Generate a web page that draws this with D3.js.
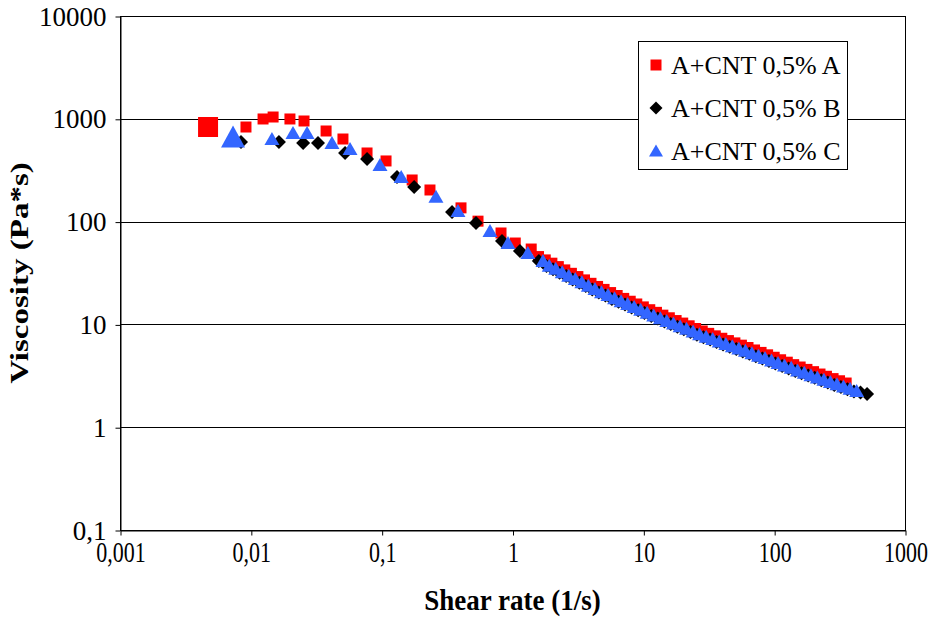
<!doctype html>
<html lang="en">
  <head>
    <meta charset="utf-8">
    <title>Viscosity vs shear rate</title>
    <script src="https://cdn.jsdelivr.net/npm/d3@7"></script>
    <style>
      body { margin: 0; background: #fff; }
      text { font-family: "Liberation Serif", "Times New Roman", serif; fill: #000; }
    </style>
  </head>
  <body>
    <script>
      // series (shear rate in 1/s, viscosity in Pa*s)
      const rateA = [0.00471, 0.00918, 0.0124, 0.0148, 0.0199, 0.0255, 0.0376, 0.0506, 0.0773, 0.108, 0.171, 0.234, 0.404, 0.545, 0.817, 1.05, 1.39,
        1.58, 1.78, 2.00, 2.24, 2.51, 2.82, 3.16, 3.55, 3.98, 4.47, 5.01, 5.62, 6.31, 7.08, 7.94, 8.91, 10.0, 11.2, 12.6, 14.1,
        15.8, 17.8, 20.0, 22.4, 25.1, 28.2, 31.6, 35.5, 39.8, 44.7, 50.1, 56.2, 63.1, 70.8, 79.4, 89.1, 100, 112, 126, 141,
        158, 178, 200, 224, 251, 282, 316, 355];
      const viscA = [832, 832, 996, 1041, 996, 952, 761, 636, 465, 389, 254, 203, 136, 101, 77.5, 61.9, 54.1,
        45.7, 42.4, 39.4, 36.5, 33.9, 31.4, 29.2, 27.1, 25.1, 23.4, 21.9, 20.4, 19.1, 17.9, 16.8, 15.8, 14.8, 13.9, 13.1, 12.3,
        11.6, 10.9, 10.3, 9.69, 9.12, 8.63, 8.18, 7.74, 7.33, 6.96, 6.61, 6.28, 5.96, 5.64, 5.34, 5.06, 4.79, 4.53, 4.29, 4.06,
        3.85, 3.65, 3.47, 3.29, 3.13, 2.97, 2.83, 2.69];

      const rateB = [0.00841, 0.0164, 0.0251, 0.0326, 0.0525, 0.0773, 0.131, 0.177, 0.345, 0.526, 0.831, 1.14, 1.59,
        1.82, 2.04, 2.29, 2.57, 2.88, 3.24, 3.63, 4.07, 4.57, 5.13, 5.75, 6.46, 7.24, 8.13, 9.12, 10.2, 11.5, 12.9, 14.5, 16.2,
        18.2, 20.4, 22.9, 25.7, 28.8, 32.4, 36.3, 40.7, 45.7, 51.3, 57.5, 64.6, 72.4, 81.3, 91.2, 102, 115, 129, 145, 162,
        182, 204, 229, 257, 288, 324, 363, 407, 457, 513];
      const viscB = [595, 595, 582, 582, 465, 406, 272, 217, 124, 96.9, 64.8, 51.8, 41.4,
        36.9, 34.3, 31.8, 29.5, 27.3, 25.4, 23.6, 21.8, 20.4, 19.1, 17.7, 16.6, 15.6, 14.6, 13.7, 12.9, 12.1, 11.4, 10.7, 10.1,
        9.48, 8.96, 8.43, 7.93, 7.51, 7.12, 6.73, 6.38, 6.06, 5.75, 5.46, 5.19, 4.91, 4.65, 4.40, 4.17, 3.94, 3.73, 3.53, 3.35,
        3.18, 3.02, 2.86, 2.72, 2.58, 2.46, 2.34, 2.23, 2.18, 2.10];

      const rateC = [0.00731, 0.0145, 0.0210, 0.0269, 0.0417, 0.0573, 0.0971, 0.141, 0.260, 0.383, 0.673, 0.924, 1.31, 1.71,
        1.91, 2.14, 2.40, 2.69, 3.02, 3.39, 3.80, 4.27, 4.79, 5.37, 6.03, 6.76, 7.59, 8.51, 9.55, 10.7, 12.0, 13.5, 15.1, 17.0,
        19.1, 21.4, 24.0, 26.9, 30.2, 33.9, 38.0, 42.7, 47.9, 53.7, 60.3, 67.6, 75.9, 85.1, 95.5, 107, 120, 135, 151, 170,
        191, 214, 240, 269, 302, 339, 380, 427];
      const viscC = [665, 636, 728, 728, 582, 508, 355, 272, 174, 127, 81.0, 61.9, 49.5, 41.4,
        37.3, 34.7, 32.1, 29.8, 27.6, 25.7, 23.8, 22.1, 20.6, 19.3, 18.0, 16.8, 15.8, 14.8, 13.9, 13.0, 12.2, 11.5, 10.8, 10.2,
        9.59, 9.06, 8.53, 8.03, 7.59, 7.20, 6.81, 6.45, 6.12, 5.82, 5.53, 5.24, 4.96, 4.70, 4.45, 4.22, 3.99, 3.78, 3.57, 3.39,
        3.21, 3.05, 2.90, 2.75, 2.61, 2.49, 2.37, 2.25];

      const seriesNames = ["A+CNT 0,5% A", "A+CNT 0,5% B", "A+CNT 0,5% C"];
      const xTicks = [0.001, 0.01, 0.1, 1, 10, 100, 1000];
      const xTickLabels = ["0,001", "0,01", "0,1", "1", "10", "100", "1000"];
      const yTicks = [0.1, 1, 10, 100, 1000, 10000];
      const yTickLabels = ["0,1", "1", "10", "100", "1000", "10000"];

      const w = 932;
      const h = 618;
      const pLeft = 120, pRight = 905, pTop = 16, pBottom = 530;
      const serif = '"Liberation Serif", "Times New Roman", serif';

      const xScale = d3.scaleLog().domain([0.001, 1000]).range([pLeft, pRight]);
      const yScale = d3.scaleLog().domain([0.1, 10000]).range([pBottom, pTop]);

      const svg = d3.select("body")
                    .append("svg")
                    .attr("width", w)
                    .attr("height", h);

      // horizontal gridlines
      svg.append("g")
         .selectAll("line")
         .data(yTicks.slice(1))
         .enter()
         .append("line")
         .attr("x1", pLeft)
         .attr("x2", pRight)
         .attr("y1", (d) => Math.round(yScale(d)) + 0.5)
         .attr("y2", (d) => Math.round(yScale(d)) + 0.5)
         .attr("stroke", "#000")
         .attr("stroke-width", 1);

      svg.append("rect")
         .attr("x", pLeft + 0.5)
         .attr("y", pTop + 0.5)
         .attr("width", pRight - pLeft)
         .attr("height", pBottom - pTop)
         .attr("fill", "none")
         .attr("stroke", "#000");

      const xAxis = d3.axisBottom(xScale)
                      .tickValues(xTicks)
                      .tickFormat((d, i) => xTickLabels[i])
                      .tickSize(5)
                      .tickSizeOuter(0);
      const gx = svg.append("g")
                    .attr("transform", "translate(0.5, " + (pBottom + 0.5) + ")")
                    .call(xAxis);

      const yAxis = d3.axisLeft(yScale)
                      .tickValues(yTicks)
                      .tickFormat((d, i) => yTickLabels[i])
                      .tickSize(5)
                      .tickSizeOuter(0)
                      .tickPadding(9);
      const gy = svg.append("g")
                    .attr("transform", "translate(" + (pLeft + 0.5) + ", 0.5)")
                    .call(yAxis);

      [gx, gy].forEach((g) => {
        g.attr("font-family", serif);
        g.selectAll("path, line").attr("stroke", "#000");
        g.selectAll("text").attr("fill", "#000");
      });
      // the x labels are drawn narrow and tall in the original
      gx.selectAll("text")
        .style("font-size", "22px")
        .attr("y", 9)
        .attr("transform", "scale(1,1.3)");
      gy.selectAll("text")
        .style("font-size", "27px");

      // axis titles
      svg.append("text")
         .attr("transform", "translate(" + ((pLeft + pRight) / 2) + ", 610) scale(1,1.08)")
         .attr("text-anchor", "middle")
         .style("font-size", "27px")
         .style("font-weight", "bold")
         .text("Shear rate (1/s)");

      svg.append("text")
         .attr("transform", "translate(28, 273) rotate(-90) scale(1.27,1)")
         .attr("text-anchor", "middle")
         .style("font-size", "26px")
         .style("font-weight", "bold")
         .text("Viscosity (Pa*s)");

      // marker shapes
      function square(s) {
        const a = s / 2;
        return "M" + (-a) + "," + (-a) + "H" + a + "V" + a + "H" + (-a) + "Z";
      }
      function diamond(s) {
        const a = s / 2;
        return "M0," + (-a) + "L" + a + ",0L0," + a + "L" + (-a) + ",0Z";
      }
      function triangle(s) {
        const a = s / 2;
        return "M0," + (-a) + "L" + (a + 0.5) + "," + (a - 1) + "L" + (-a - 0.5) + "," + (a - 1) + "Z";
      }

      const series = [
        { rate: rateA, visc: viscA, color: "#ff0000", shape: square, size: 11, first: 20 },
        { rate: rateB, visc: viscB, color: "#000000", shape: diamond, size: 14, first: 14 },
        { rate: rateC, visc: viscC, color: "#3366ff", shape: triangle, size: 14, first: 23 }
      ];

      series.forEach((s) => {
        const pts = s.rate.map((r, i) => [r, s.visc[i]]);
        svg.append("g")
           .selectAll("path")
           .data(pts)
           .enter()
           .append("path")
           .attr("transform", (d) => "translate(" + xScale(d[0]) + "," + yScale(d[1]) + ")")
           .attr("d", (d, i) => s.shape(i === 0 ? s.first : s.size))
           .attr("fill", s.color);
      });

      // legend
      const legend = svg.append("g").attr("transform", "translate(638, 41)");
      legend.append("rect")
            .attr("x", 0.5)
            .attr("y", 0.5)
            .attr("width", 209)
            .attr("height", 128)
            .attr("fill", "#fff")
            .attr("stroke", "#000");

      series.forEach((s, i) => {
        const y = 24 + i * 43;
        legend.append("path")
              .attr("transform", "translate(18," + y + ")")
              .attr("d", s.shape(i === 0 ? 11 : 13))
              .attr("fill", s.color);
        legend.append("text")
              .attr("x", 33)
              .attr("y", y + 9)
              .style("font-size", "26px")
              .text(seriesNames[i]);
      });
    </script>
  </body>
</html>
